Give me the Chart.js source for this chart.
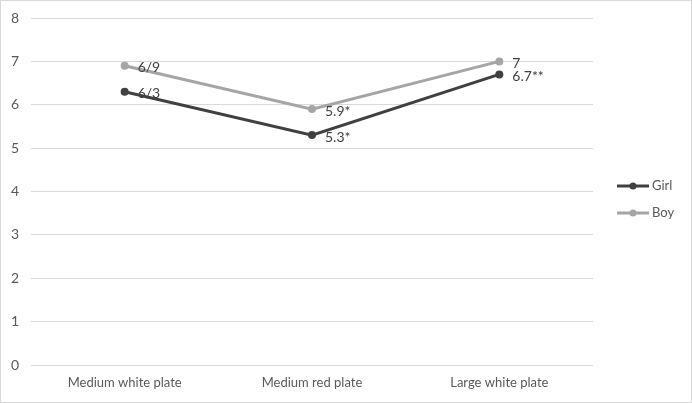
<!DOCTYPE html>
<html>
<head>
<meta charset="utf-8">
<script src="https://cdn.jsdelivr.net/npm/chart.js@4.4.1/dist/chart.umd.min.js"></script>
<style>
  html, body { margin: 0; padding: 0; background: #fff; }
  #wrap { width: 692px; height: 403px; box-sizing: border-box; border: 1px solid #d9d9d9; }
  canvas { display: block; }
</style>
</head>
<body>
<div id="wrap"><canvas id="chart" width="690" height="401"></canvas></div>
<script>
// Chart data
const categories = ['Medium white plate', 'Medium red plate', 'Large white plate'];
const girlValues = [6.3, 5.3, 6.7];
const boyValues = [6.9, 5.9, 7];
const girlLabels = ['6/3', '5.3*', '6.7**'];
const boyLabels = ['6/9', '5.9*', '7'];
const yTicks = [0, 1, 2, 3, 4, 5, 6, 7, 8];

const FONT = 'Lato, "Open Sans", sans-serif';
const textColor = '#595959';

// Value labels to the right of each point
const pointLabels = {
    id: 'pointLabels',
    afterDatasetsDraw(chart) {
        const ctx = chart.ctx;
        ctx.save();
        ctx.font = '14px ' + FONT;
        ctx.fillStyle = '#404040';
        ctx.textAlign = 'left';
        ctx.textBaseline = 'middle';
        chart.data.datasets.forEach((ds, i) => {
            const meta = chart.getDatasetMeta(i);
            meta.data.forEach((pt, j) => {
                ctx.fillText(ds.valueLabels[j], pt.x + 13, pt.y + 2);
            });
        });
        ctx.restore();
    }
};

// Legend on the right side
const sideLegend = {
    id: 'sideLegend',
    afterDraw(chart) {
        const ctx = chart.ctx;
        const x0 = chart.chartArea.right + 24;
        ctx.save();
        ctx.font = '13px ' + FONT;
        ctx.textBaseline = 'middle';
        chart.data.datasets.forEach((ds, i) => {
            const y = 185 + i * 27;
            ctx.strokeStyle = ds.borderColor;
            ctx.lineWidth = 3;
            ctx.beginPath();
            ctx.moveTo(x0, y);
            ctx.lineTo(x0 + 32, y);
            ctx.stroke();
            ctx.fillStyle = ds.borderColor;
            ctx.beginPath();
            ctx.arc(x0 + 16, y, 3.5, 0, Math.PI * 2);
            ctx.fill();
            ctx.fillStyle = textColor;
            ctx.fillText(ds.label, x0 + 35, y);
        });
        ctx.restore();
    }
};

const ctx = document.getElementById('chart').getContext('2d');
new Chart(ctx, {
    type: 'line',
    data: {
        labels: categories,
        datasets: [{
            label: 'Girl',
            data: girlValues,
            valueLabels: girlLabels,
            borderColor: '#404040',
            backgroundColor: '#404040',
            borderWidth: 3,
            pointRadius: 4,
            pointBackgroundColor: '#404040',
            pointBorderWidth: 0,
            tension: 0
        }, {
            label: 'Boy',
            data: boyValues,
            valueLabels: boyLabels,
            borderColor: '#a5a5a5',
            backgroundColor: '#a5a5a5',
            borderWidth: 3,
            pointRadius: 4,
            pointBackgroundColor: '#a5a5a5',
            pointBorderWidth: 0,
            tension: 0
        }]
    },
    options: {
        responsive: false,
        animation: false,
        layout: {
            padding: { left: 0, top: 17, right: 98, bottom: 0 }
        },
        plugins: {
            legend: { display: false },
            tooltip: { enabled: false }
        },
        scales: {
            x: {
                offset: true,
                grid: { display: false, drawTicks: false },
                border: { display: false },
                ticks: {
                    color: textColor,
                    font: { family: FONT, size: 13 },
                    padding: 10,
                    maxRotation: 0
                },
                afterFit(scale) {
                    scale.height = 37;
                    scale.paddingLeft = 0;
                    scale.paddingRight = 0;
                }
            },
            y: {
                min: 0,
                max: 8,
                afterBuildTicks(scale) {
                    scale.ticks = yTicks.map(v => ({ value: v }));
                },
                grid: { color: '#d9d9d9', lineWidth: 1, drawTicks: false },
                border: { display: false },
                ticks: {
                    color: textColor,
                    font: { family: FONT, size: 14 },
                    padding: 12
                },
                afterFit(scale) {
                    scale.width = 30;
                    scale.paddingTop = 0;
                    scale.paddingBottom = 0;
                }
            }
        }
    },
    plugins: [pointLabels, sideLegend]
});
</script>
</body>
</html>
